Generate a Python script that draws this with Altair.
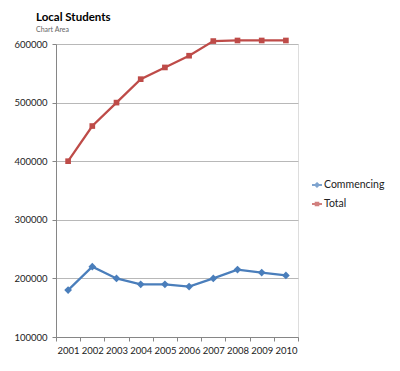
import altair as alt
import pandas as pd

years = ["2001", "2002", "2003", "2004", "2005", "2006", "2007", "2008", "2009", "2010"]
commencing = [180000, 220000, 200000, 190000, 190000, 186000, 200000, 215000, 210000, 205000]
total = [400000, 460000, 500000, 540000, 560000, 580000, 605000, 606000, 606000, 606000]
series_names = ["Commencing", "Total"]
series_colors = ["#4A7EBB", "#BE4B48"]
y_ticks = [100000, 200000, 300000, 400000, 500000, 600000]

rows = []
for y, c, t in zip(years, commencing, total):
    rows.append({"year": y, "value": c, "series": "Commencing"})
    rows.append({"year": y, "value": t, "series": "Total"})
df = pd.DataFrame(rows)

FONT = "Lato"
AX = "#868686"

x_enc = alt.X("year:O", title=None,
              scale=alt.Scale(type="band", paddingInner=0, paddingOuter=0),
              axis=alt.Axis(labelAngle=0, tickBand="extent", domainColor=AX, tickColor=AX,
                            tickSize=4, labelFont=FONT, labelFontSize=9.5, labelColor="#222222",
                            labelPadding=4, grid=False))
y_enc = alt.Y("value:Q", title=None,
              scale=alt.Scale(domain=[100000, 600000], nice=False, zero=False),
              axis=alt.Axis(values=y_ticks, format="d", domainColor=AX, tickColor=AX, tickSize=4,
                            gridColor="#B8B8B8", labelFont=FONT, labelFontSize=9.5,
                            labelColor="#222222", labelPadding=5))

base = alt.Chart(df)
layers = []
shapes = ["diamond", "square"]
sizes = [60, 32]
for name, col, shp, sz in zip(series_names, series_colors, shapes, sizes):
    sub = base.transform_filter(alt.datum.series == name)
    layers.append(sub.mark_line(color=col, strokeWidth=2.25).encode(x=x_enc, y=y_enc))
    layers.append(sub.mark_point(color=col, filled=True, shape=shp, size=sz, opacity=1).encode(x=x_enc, y=y_enc))

legend_paths = [
    "M-1,0L1,0M0,-0.34L0.34,0L0,0.34L-0.34,0Z",
    "M-1,0L1,0M-0.26,-0.26L0.26,-0.26L0.26,0.26L-0.26,0.26Z",
]
legend_layer = base.transform_filter("false").mark_point(filled=True, size=1936).encode(
    fill=alt.Fill("series:N", scale=alt.Scale(domain=series_names, range=series_colors),
                  legend=alt.Legend(title=None, orient="none", legendX=255, legendY=135,
                                    padding=0, labelFont=FONT, labelFontSize=10.5,
                                    labelColor="#222222", labelOffset=1, symbolStrokeWidth=2,
                                    rowPadding=7)),
    stroke=alt.Stroke("series:N", scale=alt.Scale(domain=series_names, range=series_colors)),
    shape=alt.Shape("series:N", scale=alt.Scale(domain=series_names, range=legend_paths)),
)

chart = alt.layer(*layers, legend_layer).properties(
    width=242, height=293,
    autosize="none",
    padding={"left": 48, "top": 36, "right": 94, "bottom": 26},
    title=alt.TitleParams("Local Students", subtitle="Chart Area", anchor="start", frame="group",
                          dx=-20, offset=3, font=FONT, fontSize=11.5, fontWeight="bold",
                          color="#000000", subtitleFont=FONT, subtitleFontSize=7,
                          subtitleColor="#666666", subtitlePadding=2),
).configure_view(stroke=None).configure(background="white")

chart.save("out.html", embed_options={"renderer": "svg", "actions": False})
